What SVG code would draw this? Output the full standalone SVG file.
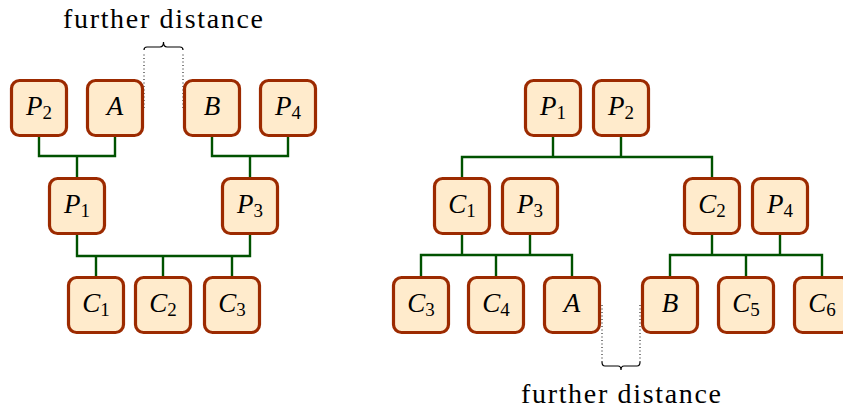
<svg xmlns="http://www.w3.org/2000/svg" width="843" height="409" viewBox="0 0 843 409">
<style>
.box{fill:#FFEBCC;stroke:#9C2A00;stroke-width:3.2}
.lbl{font-style:italic;font-size:27px;fill:#000;text-anchor:middle}
.sub{font-style:normal;font-size:19px}
.con{fill:none;stroke:#005200;stroke-width:2.4}
.dot{fill:none;stroke:#000;stroke-width:1;stroke-dasharray:1 2.5}
.brace{fill:none;stroke:#000;stroke-width:1.2}
.txt{font-size:28px;fill:#000;text-anchor:middle}
</style>
<g id="connectors">
<path class="con" d="M39,137V156H115V137M77,156V177"/>
<path class="con" d="M212,137V156H288V137M250,156V177"/>
<path class="con" d="M77,235V256H250V235M96,256V276M163,256V276M232,256V276"/>
<path class="con" d="M553,137V157M621,137V157M462,177V157H712V177"/>
<path class="con" d="M462,235V255M530,235V255M421,276V255H572V276M496,255V276"/>
<path class="con" d="M712,235V255M780,235V255M670,276V255H822V276M746,255V276"/>
</g>
<g id="annot-top">
<path class="dot" d="M144,108V54M183,108V54"/>
<path class="brace" d="M144,50Q144,47 147,47H160Q163.5,47 163.5,42Q163.5,47 167,47H180Q183,47 183,50"/>
<text class="txt" font-family="Liberation Serif, DejaVu Serif, serif" x="163" y="28" textLength="200" lengthAdjust="spacing">further distance</text>
</g>
<g id="annot-bottom">
<path class="dot" d="M602,305V362M640,305V362"/>
<path class="brace" d="M602,362Q602,366 605,366H618Q621,366 621,370Q621,366 624,366H637Q640,366 640,362"/>
<text class="txt" font-family="Liberation Serif, DejaVu Serif, serif" x="621" y="403" textLength="200" lengthAdjust="spacing">further distance</text>
</g>
<g font-family="Liberation Serif, DejaVu Serif, serif">
<g id="L-P2"><rect class="box" x="11.5" y="80.5" width="55" height="55" rx="8"/><text class="lbl" x="39" y="115">P<tspan class="sub" dy="4">2</tspan></text></g>
<g id="L-A"><rect class="box" x="87.5" y="80.5" width="55" height="55" rx="8"/><text class="lbl" x="115" y="115">A</text></g>
<g id="L-B"><rect class="box" x="184.5" y="80.5" width="55" height="55" rx="8"/><text class="lbl" x="212" y="115">B</text></g>
<g id="L-P4"><rect class="box" x="260.5" y="80.5" width="55" height="55" rx="8"/><text class="lbl" x="288" y="115">P<tspan class="sub" dy="4">4</tspan></text></g>
<g id="L-P1"><rect class="box" x="49.5" y="178.5" width="55" height="55" rx="8"/><text class="lbl" x="77" y="213">P<tspan class="sub" dy="4">1</tspan></text></g>
<g id="L-P3"><rect class="box" x="222.5" y="178.5" width="55" height="55" rx="8"/><text class="lbl" x="250" y="213">P<tspan class="sub" dy="4">3</tspan></text></g>
<g id="L-C1"><rect class="box" x="68.5" y="277.5" width="55" height="55" rx="8"/><text class="lbl" x="96" y="312">C<tspan class="sub" dy="4">1</tspan></text></g>
<g id="L-C2"><rect class="box" x="135.5" y="277.5" width="55" height="55" rx="8"/><text class="lbl" x="163" y="312">C<tspan class="sub" dy="4">2</tspan></text></g>
<g id="L-C3"><rect class="box" x="204.5" y="277.5" width="55" height="55" rx="8"/><text class="lbl" x="232" y="312">C<tspan class="sub" dy="4">3</tspan></text></g>
<g id="R-P1"><rect class="box" x="525.5" y="80.5" width="55" height="55" rx="8"/><text class="lbl" x="553" y="115">P<tspan class="sub" dy="4">1</tspan></text></g>
<g id="R-P2"><rect class="box" x="593.5" y="80.5" width="55" height="55" rx="8"/><text class="lbl" x="621" y="115">P<tspan class="sub" dy="4">2</tspan></text></g>
<g id="R-C1"><rect class="box" x="434.5" y="178.5" width="55" height="55" rx="8"/><text class="lbl" x="462" y="213">C<tspan class="sub" dy="4">1</tspan></text></g>
<g id="R-P3"><rect class="box" x="502.5" y="178.5" width="55" height="55" rx="8"/><text class="lbl" x="530" y="213">P<tspan class="sub" dy="4">3</tspan></text></g>
<g id="R-C2"><rect class="box" x="684.5" y="178.5" width="55" height="55" rx="8"/><text class="lbl" x="712" y="213">C<tspan class="sub" dy="4">2</tspan></text></g>
<g id="R-P4"><rect class="box" x="752.5" y="178.5" width="55" height="55" rx="8"/><text class="lbl" x="780" y="213">P<tspan class="sub" dy="4">4</tspan></text></g>
<g id="R-C3"><rect class="box" x="393.5" y="277.5" width="55" height="55" rx="8"/><text class="lbl" x="421" y="312">C<tspan class="sub" dy="4">3</tspan></text></g>
<g id="R-C4"><rect class="box" x="468.5" y="277.5" width="55" height="55" rx="8"/><text class="lbl" x="496" y="312">C<tspan class="sub" dy="4">4</tspan></text></g>
<g id="R-A"><rect class="box" x="544.5" y="277.5" width="55" height="55" rx="8"/><text class="lbl" x="572" y="312">A</text></g>
<g id="R-B"><rect class="box" x="642.5" y="277.5" width="55" height="55" rx="8"/><text class="lbl" x="670" y="312">B</text></g>
<g id="R-C5"><rect class="box" x="718.5" y="277.5" width="55" height="55" rx="8"/><text class="lbl" x="746" y="312">C<tspan class="sub" dy="4">5</tspan></text></g>
<g id="R-C6"><rect class="box" x="794.5" y="277.5" width="55" height="55" rx="8"/><text class="lbl" x="822" y="312">C<tspan class="sub" dy="4">6</tspan></text></g>
</g>
</svg>
